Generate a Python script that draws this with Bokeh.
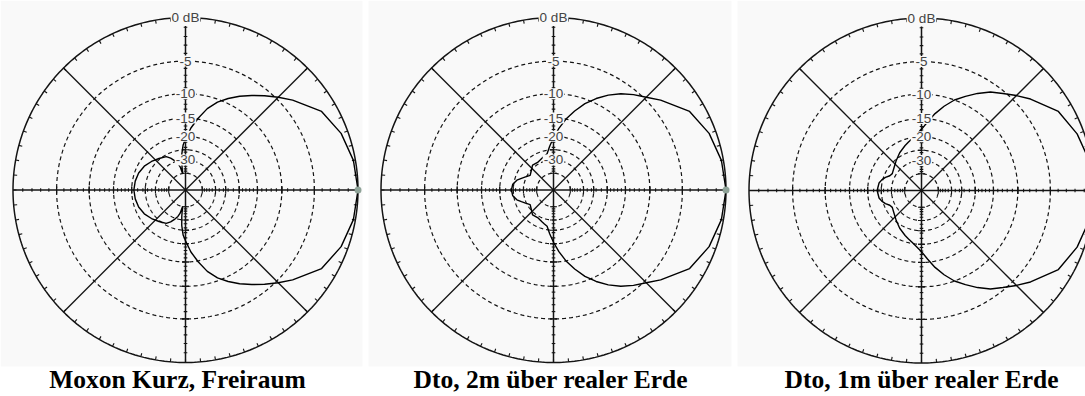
import numpy as np
from bokeh.plotting import figure
from bokeh.models import Range1d
from bokeh.embed import file_html
from bokeh.resources import INLINE
from bokeh.core.properties import value

# Horizontal radiation patterns of a short Moxon antenna.
# Azimuth in degrees (0 = main beam, counter-clockwise), relative gain in dB.
# Only the upper half is listed; the patterns are mirror-symmetric about the beam axis.
titles = ["Moxon Kurz, Freiraum", "Dto, 2m über realer Erde", "Dto, 1m über realer Erde"]

az_free = [0, 10, 20, 30, 40, 45, 50, 55, 60, 65, 70, 75, 80, 85, 90, 93, 96, 98,
           100, 103, 106, 110, 115, 120, 130, 140, 150, 160, 170, 180]
gain_free = [0.0, -0.2, -0.7, -1.6, -3.6, -4.7, -5.8, -6.9, -8.0, -9.2, -10.5, -12.3,
             -14.8, -17.5, -21.0, -23.0, -27.0, -32.0, -40.0, -34.0, -31.5, -29.5,
             -27.3, -25.7, -24.6, -23.3, -22.1, -21.3, -20.9, -20.7]

az_2m = [0, 10, 20, 30, 40, 45, 50, 55, 60, 65, 70, 75, 80, 85, 90, 95, 100, 105,
         110, 120, 130, 140, 148, 155, 160, 165, 172, 180]
gain_2m = [0.0, -0.2, -0.7, -1.6, -3.6, -4.7, -5.6, -6.6, -7.8, -9.2, -10.8, -12.8,
           -15.0, -17.6, -20.5, -23.5, -26.5, -27.3, -28.0, -29.0, -28.6, -30.5,
           -31.5, -29.5, -27.8, -26.0, -24.6, -24.2]

az_1m = [0, 10, 20, 30, 40, 45, 50, 55, 60, 65, 70, 75, 80, 85, 90, 95, 100, 105,
         110, 120, 130, 140, 150, 155, 160, 165, 170, 180]
gain_1m = [0.0, -0.2, -0.7, -1.5, -3.3, -4.3, -5.3, -6.2, -7.4, -8.7, -10.0, -11.7,
           -13.6, -15.8, -17.8, -19.2, -20.3, -21.2, -22.0, -23.6, -25.4, -27.0,
           -28.0, -27.4, -25.8, -24.6, -23.8, -23.3]

patterns = [(az_free, gain_free), (az_2m, gain_2m), (az_1m, gain_1m)]

# dB rings of the ARRL log-periodic scale and their labels on the vertical axis
ring_db = [-5, -10, -15, -20, -25, -30, -40]
label_db = [0, -5, -10, -15, -20, -30]
label_text = ["0 dB", "-5", "-10", "-15", "-20", "-30"]
tick_db = list(range(-1, -21, -1)) + [-22, -24, -26, -28, -32, -34, -36, -38]

W, H = 1085, 396
R = 172.5
CENTERS = [(185.0, 206.5), (553.0, 206.5), (921.0, 206.0)]
PANEL_BG = "#f9f9f9"
INK = "#141414"


def arrl(db):
    """Radius fraction on the ARRL log scale: 0.89 per 2 dB."""
    return 0.89 ** (-np.asarray(db, dtype=float) / 2.0)


p = figure(width=W, height=H, x_range=Range1d(0, W), y_range=Range1d(0, H),
           output_backend="svg", toolbar_location=None, min_border=0)
p.axis.visible = False
p.grid.visible = False
p.outline_line_color = None
p.background_fill_color = "white"
p.border_fill_color = "white"

# light panel backgrounds
p.quad(left=[0, 368, 737], right=[362, 731, W], bottom=[30] * 3, top=[H] * 3,
       fill_color=PANEL_BG, line_color=None)

th = np.radians(np.arange(0, 360.5, 1.0))

for k, (cx, cy) in enumerate(CENTERS):
    # dashed dB rings
    xs, ys = [], []
    for d in ring_db:
        r = R * arrl(d)
        xs.append(list(cx + r * np.cos(th)))
        ys.append(list(cy + r * np.sin(th)))
    p.multi_line(xs, ys, line_color=INK, line_width=1.2, line_dash="4 3")

    # outer 0 dB circle
    p.line(cx + R * np.cos(th), cy + R * np.sin(th), line_color=INK, line_width=1.5)

    # axes through the centre
    p.segment(x0=[cx - R, cx], y0=[cy, cy - R], x1=[cx + R, cx], y1=[cy, cy + R],
              line_color=INK, line_width=1.5)
    diag = np.radians([45, 135, 225, 315])
    p.segment(x0=[cx] * 4, y0=[cy] * 4, x1=list(cx + R * np.cos(diag)),
              y1=list(cy + R * np.sin(diag)), line_color=INK, line_width=1.3)

    # tick marks on the four half-axes
    tx0, ty0, tx1, ty1 = [], [], [], []
    for d in tick_db + ring_db:
        r = R * arrl(d)
        L = 3.5 if d in ring_db else 1.8
        for sgn in (1, -1):
            tx0 += [cx + sgn * r, cx - L]
            tx1 += [cx + sgn * r, cx + L]
            ty0 += [cy - L, cy + sgn * r]
            ty1 += [cy + L, cy + sgn * r]
    p.segment(x0=tx0, y0=ty0, x1=tx1, y1=ty1, line_color=INK, line_width=1.1)

    # degree ticks on the outer circle, every 5 degrees
    ang = np.radians(np.arange(0, 360, 5))
    p.segment(x0=list(cx + R * np.cos(ang)), y0=list(cy + R * np.sin(ang)),
              x1=list(cx + (R - 3.5) * np.cos(ang)), y1=list(cy + (R - 3.5) * np.sin(ang)),
              line_color=INK, line_width=1.1)

    # pattern curve, mirrored to the lower half
    az, g = patterns[k]
    az_full = np.array(list(az) + [360 - a for a in reversed(az[:-1])], dtype=float)
    g_full = np.array(list(g) + list(reversed(g[:-1])), dtype=float)
    rr = R * arrl(g_full)
    p.line(cx + rr * np.cos(np.radians(az_full)), cy + rr * np.sin(np.radians(az_full)),
           line_color="black", line_width=1.4)

    # marker at the beam maximum
    p.scatter([cx + R * arrl(g[0])], [cy], size=7, color="#8fa398", line_color=None)

    # ring labels on the vertical axis
    p.text(x=[cx] * len(label_db), y=list(cy + R * arrl(label_db)), text=label_text,
           text_align="center", text_baseline="middle",
           text_font=value("Liberation Sans"), text_font_size="13.5px",
           text_color="#444444", background_fill_color=PANEL_BG, padding=1)

# panel captions
p.text(x=[177, 550.5, 921.5], y=[17.5, 17.5, 17.5], text=titles, text_align="center",
       text_baseline="middle", text_font=value("Liberation Serif"),
       text_font_style="bold", text_font_size="25.5px", text_color="black")

open("out.html", "w").write(file_html(p, INLINE))
